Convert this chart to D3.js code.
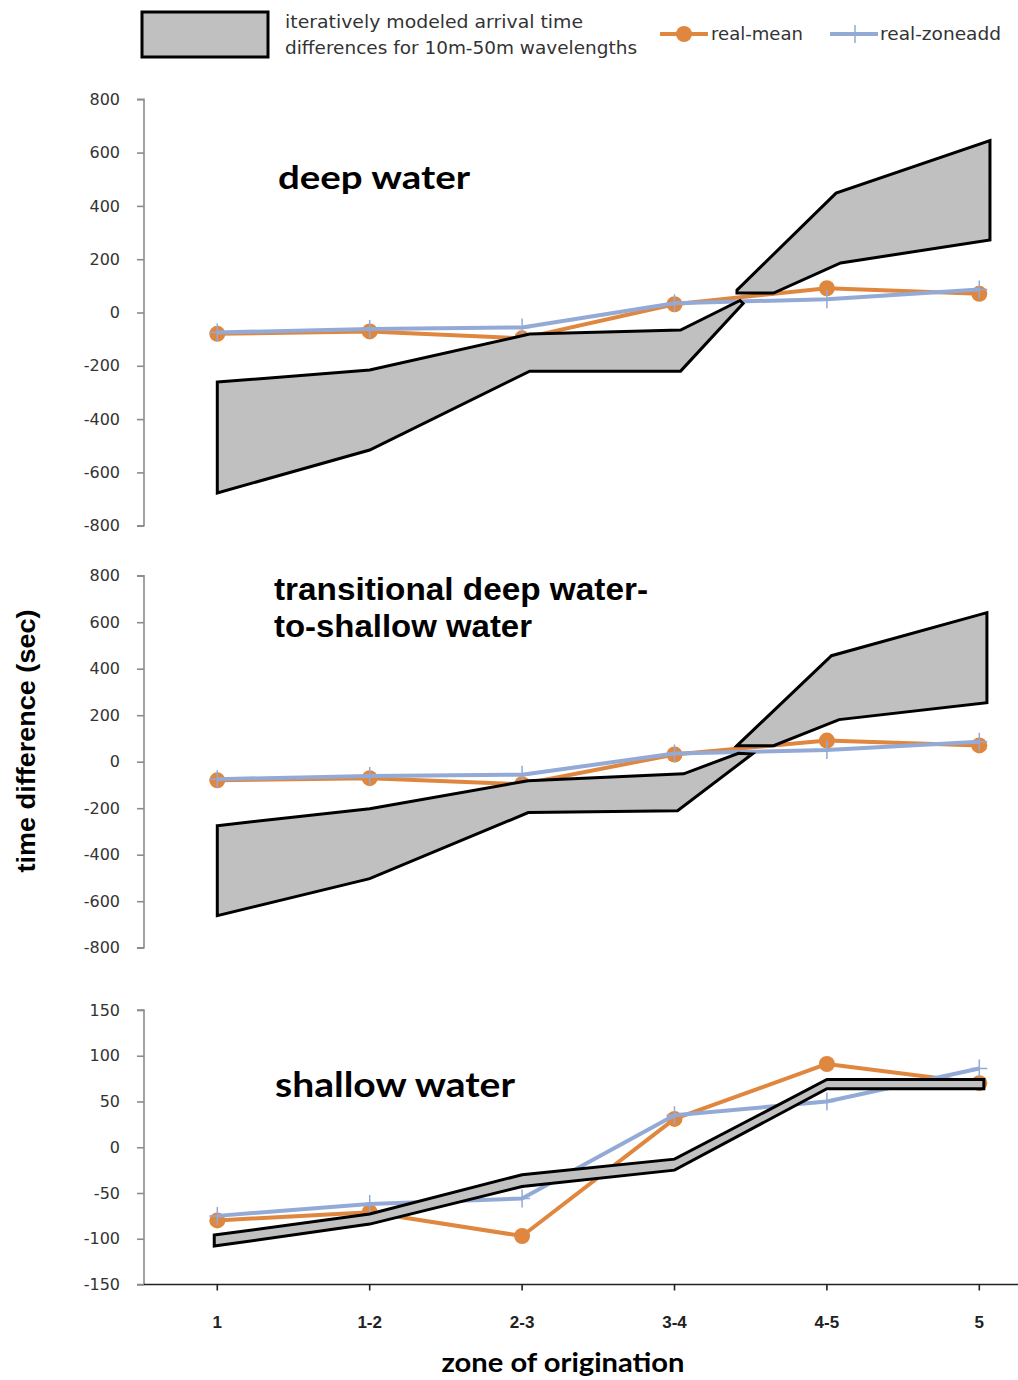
<!DOCTYPE html>
<html>
<head>
<meta charset="utf-8">
<script src="https://cdn.jsdelivr.net/npm/d3@7"></script>
<style>
  body { margin: 0; background: #fff; }
  svg { display: block; }
</style>
</head>
<body>
<div id="chart"></div>
<script>
// zones along the x axis
var categories = ["1", "1-2", "2-3", "3-4", "4-5", "5"];

// measured series (same in all three panels)
var realMean = [-80, -71, -97, 31, 91, 70];
var realZoneadd = [-75, -62, -56, 35, 50, 86];

// modeled band outlines: [zone index, value]
var deepBandLeftTop = [[0, -261], [1, -216], [2.05, -81], [3.04, -66], [3.43, 45]];
var deepBandLeftBottom = [[0, -677], [1, -516], [2.05, -220], [3.04, -220], [3.45, 34]];
var deepBandRightTop = [[3.41, 84], [4.06, 448], [5.07, 645]];
var deepBandRightBottom = [[3.41, 73], [3.65, 73], [4.09, 186], [5.07, 272]];

var transBandLeftTop = [[0, -275], [1, -202], [2.04, -82], [3.06, -52], [3.42, 36]];
var transBandLeftBottom = [[0, -662], [1, -503], [2.04, -219], [3.02, -211], [3.51, 33]];
var transBandRightTop = [[3.41, 69], [4.03, 456], [5.05, 641]];
var transBandRightBottom = [[3.41, 69], [3.65, 69], [4.08, 181], [5.05, 254]];

var shallowBandTop = [[-0.02, -96], [1, -73], [2, -30], [3, -13], [4, 74], [5.03, 74]];
var shallowBandBottom = [[-0.02, -108], [1, -84], [2, -43], [3, -25], [4, 64], [5.03, 64]];

// y tick labels
var deepTicks = [800, 600, 400, 200, 0, -200, -400, -600, -800];
var shallowTicks = [150, 100, 50, 0, -50, -100, -150];

var orange = '#E0873F';
var blue = '#93AAD6';
var bandFill = '#C0C0C0';

var svg = d3.select('#chart')
    .append('svg')
    .attr('width', 1018)
    .attr('height', 1380);

var x = d3.scaleLinear().domain([0, 5]).range([217.3, 979.3]);
var axisX = 144;

// text with a fixed drawn width (the source picture is slightly stretched)
function fitText(sel, len) {
    return sel.attr('textLength', len).attr('lengthAdjust', 'spacingAndGlyphs');
}

var panels = [
    {
        y: d3.scaleLinear().domain([-800, 800]).range([525.7, 99.3]),
        ticks: deepTicks,
        bands: [[deepBandLeftTop, deepBandLeftBottom], [deepBandRightTop, deepBandRightBottom]],
        title: ['deep water'], widths: [192], titleFont: 'Lato', titleSize: 33, titleX: 278, titleY: 189, lineGap: 0
    },
    {
        y: d3.scaleLinear().domain([-800, 800]).range([947.7, 575.7]),
        ticks: deepTicks,
        bands: [[transBandLeftTop, transBandLeftBottom], [transBandRightTop, transBandRightBottom]],
        title: ['transitional deep water-', 'to-shallow water'], widths: [374, 258],
        titleFont: 'Liberation Sans', titleSize: 31, titleX: 274, titleY: 600, lineGap: 37
    },
    {
        y: d3.scaleLinear().domain([-150, 150]).range([1284.5, 1010]),
        ticks: shallowTicks,
        bands: [[shallowBandTop, shallowBandBottom]],
        title: ['shallow water'], widths: [240], titleFont: 'Lato', titleSize: 34, titleX: 275, titleY: 1097, lineGap: 0,
        xAxis: true
    }
];

panels.forEach(function (p) {
    var g = svg.append('g');
    var y = p.y;

    // y axis
    var yAxis = d3.axisLeft(y).tickValues(p.ticks).tickSize(7).tickPadding(17)
        .tickFormat(function (d) { return String(d); });
    var ya = g.append('g')
        .attr('transform', 'translate(' + axisX + ',0)')
        .call(yAxis);
    ya.select('.domain').attr('stroke', '#8c8c8c').attr('stroke-width', 1.6)
        .attr('d', 'M-7,' + y.range()[1] + 'H0V' + y.range()[0] + 'H-7');
    ya.selectAll('.tick line').attr('stroke', '#8c8c8c').attr('stroke-width', 1.6);
    ya.selectAll('.tick text')
        .attr('font-family', 'DejaVu Sans')
        .attr('font-size', 16)
        .attr('fill', '#333');

    if (p.xAxis) {
        var xa = g.append('g')
            .attr('transform', 'translate(0,' + y.range()[0] + ')');
        xa.append('line')
            .attr('x1', axisX).attr('x2', 1018)
            .attr('stroke', '#222').attr('stroke-width', 1.6);
        xa.selectAll('.xt')
            .data(categories)
            .enter().append('line')
            .attr('x1', function (d, i) { return x(i); })
            .attr('x2', function (d, i) { return x(i); })
            .attr('y1', 0).attr('y2', 6)
            .attr('stroke', '#222').attr('stroke-width', 1.6);
        xa.selectAll('.xl')
            .data(categories)
            .enter().append('text')
            .attr('x', function (d, i) { return x(i); })
            .attr('y', 43)
            .attr('text-anchor', 'middle')
            .attr('font-family', 'Liberation Sans')
            .attr('font-weight', 'bold')
            .attr('font-size', 17)
            .attr('fill', '#222')
            .text(function (d) { return d; });
    }

    // measured lines
    var line = d3.line()
        .x(function (d, i) { return x(i); })
        .y(function (d) { return y(d); });

    g.append('path')
        .datum(realMean)
        .attr('d', line)
        .attr('fill', 'none')
        .attr('stroke', orange)
        .attr('stroke-width', 4)
        .attr('stroke-linejoin', 'round');
    g.selectAll('.dot')
        .data(realMean)
        .enter().append('circle')
        .attr('cx', function (d, i) { return x(i); })
        .attr('cy', function (d) { return y(d); })
        .attr('r', 8)
        .attr('fill', orange);

    g.append('path')
        .datum(realZoneadd)
        .attr('d', line)
        .attr('fill', 'none')
        .attr('stroke', blue)
        .attr('stroke-width', 4)
        .attr('stroke-linejoin', 'round');
    g.selectAll('.plus')
        .data(realZoneadd)
        .enter().append('path')
        .attr('d', function (d, i) {
            var cx = x(i), cy = y(d);
            return 'M' + (cx - 8) + ',' + cy + 'H' + (cx + 8) + 'M' + cx + ',' + (cy - 9) + 'V' + (cy + 9);
        })
        .attr('stroke', blue)
        .attr('stroke-width', 1.5);

    // modeled band, on top of the lines
    p.bands.forEach(function (b) {
        var pts = b[0].concat(b[1].slice().reverse());
        g.append('path')
            .attr('d', d3.line()
                .x(function (d) { return x(d[0]); })
                .y(function (d) { return y(d[1]); })(pts) + 'Z')
            .attr('fill', bandFill)
            .attr('stroke', '#000')
            .attr('stroke-width', 3)
            .attr('stroke-linejoin', 'miter');
    });

    // panel title
    p.title.forEach(function (s, i) {
        g.append('text')
            .attr('x', p.titleX)
            .attr('y', p.titleY + i * p.lineGap)
            .attr('font-family', p.titleFont)
            .attr('font-weight', 'bold')
            .attr('font-size', p.titleSize)
            .attr('fill', '#000')
            .text(s)
            .call(fitText, p.widths[i]);
    });
});

// axis titles
svg.append('text')
    .attr('transform', 'translate(35,741) rotate(-90)')
    .attr('text-anchor', 'middle')
    .attr('font-family', 'Liberation Sans')
    .attr('font-weight', 'bold')
    .attr('font-size', 25)
    .attr('fill', '#000')
    .text('time difference (sec)')
    .call(fitText, 263);

svg.append('text')
    .attr('x', 563)
    .attr('y', 1372)
    .attr('text-anchor', 'middle')
    .attr('font-family', 'Lato')
    .attr('font-weight', 'bold')
    .attr('font-size', 27)
    .attr('fill', '#000')
    .text('zone of origination')
    .call(fitText, 243);

// legend
var legend = svg.append('g');
legend.append('rect')
    .attr('x', 142).attr('y', 12)
    .attr('width', 126).attr('height', 45)
    .attr('fill', bandFill)
    .attr('stroke', '#000')
    .attr('stroke-width', 3);
legend.append('text')
    .attr('x', 285).attr('y', 28)
    .attr('font-family', 'DejaVu Sans').attr('font-size', 17).attr('fill', '#333')
    .text('iteratively modeled arrival time')
    .call(fitText, 298);
legend.append('text')
    .attr('x', 285).attr('y', 54)
    .attr('font-family', 'DejaVu Sans').attr('font-size', 17).attr('fill', '#333')
    .text('differences for 10m-50m wavelengths')
    .call(fitText, 352);

legend.append('line')
    .attr('x1', 660).attr('x2', 708).attr('y1', 34).attr('y2', 34)
    .attr('stroke', orange).attr('stroke-width', 4);
legend.append('circle')
    .attr('cx', 684).attr('cy', 34).attr('r', 8).attr('fill', orange);
legend.append('text')
    .attr('x', 711).attr('y', 40)
    .attr('font-family', 'DejaVu Sans').attr('font-size', 17).attr('fill', '#333')
    .text('real-mean')
    .call(fitText, 92);

legend.append('line')
    .attr('x1', 830).attr('x2', 878).attr('y1', 34).attr('y2', 34)
    .attr('stroke', blue).attr('stroke-width', 4);
legend.append('path')
    .attr('d', 'M847,34H863M855,25V43')
    .attr('stroke', blue).attr('stroke-width', 1.5);
legend.append('text')
    .attr('x', 880).attr('y', 40)
    .attr('font-family', 'DejaVu Sans').attr('font-size', 17).attr('fill', '#333')
    .text('real-zoneadd')
    .call(fitText, 121);
</script>
</body>
</html>
